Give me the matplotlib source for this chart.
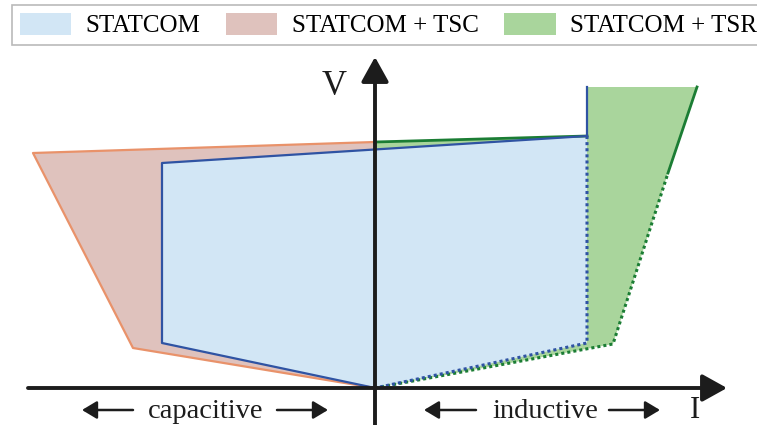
import matplotlib.pyplot as plt
from matplotlib.patches import Polygon, Patch

plt.rcParams['font.family'] = ['Liberation Serif', 'DejaVu Serif']

# operating regions in the V-I plane (arbitrary units, origin at I=0, V=0)
statcom_I = [0, -213, -213, 212, 212]
statcom_V = [0, 45, 225, 252, 45]
statcom_ext_I = [212, 212]          # vertical limit above the top corner
statcom_ext_V = [252, 301]

tsc_I = [0, -242, -342, 0]
tsc_V = [0, 40, 235, 246]

tsr_I = [0, 238, 293, 322, 212, 212, 0]
tsr_V = [0, 44, 215, 301, 301, 252, 246]

legend_labels = ['STATCOM', 'STATCOM + TSC', 'STATCOM + TSR']

c_blue_fill, c_blue_edge = '#d2e6f5', '#2f53a3'
c_pink_fill, c_pink_edge = '#dfc2bd', '#e9926a'
c_green_fill, c_green_edge = '#a9d59c', '#1b7d34'
c_axis = '#1c1c1c'

fig = plt.figure(figsize=(7.57, 4.25), dpi=100)
ax = fig.add_axes([0, 0, 1, 1])
ax.set_xlim(-375, 382)
ax.set_ylim(-37, 388)
ax.set_axis_off()

# fills
ax.add_patch(Polygon(list(zip(tsr_I, tsr_V)), closed=True, fc=c_green_fill, ec='none', zorder=1))
ax.add_patch(Polygon(list(zip(tsc_I, tsc_V)), closed=True, fc=c_pink_fill, ec='none', zorder=1))
ax.add_patch(Polygon(list(zip(statcom_I, statcom_V)), closed=True, fc=c_blue_fill, ec='none', zorder=2))

dot = (0, (1, 1))
# TSC boundary
ax.plot(tsc_I, tsc_V, color=c_pink_edge, lw=1.6, zorder=3)
# TSR boundary
ax.plot(tsr_I[6:] + [tsr_I[5]], tsr_V[6:] + [tsr_V[5]], color=c_green_edge, lw=2, zorder=3)
ax.plot(tsr_I[2:4], tsr_V[2:4], color=c_green_edge, lw=2, zorder=3)
ax.plot(tsr_I[0:3], tsr_V[0:3], color=c_green_edge, lw=2.2, ls=dot, zorder=3)
# STATCOM boundary
ax.plot(statcom_I[0:4], statcom_V[0:4], color=c_blue_edge, lw=1.6, zorder=4)
ax.plot(statcom_ext_I, statcom_ext_V, color=c_blue_edge, lw=1.6, zorder=4)
ax.plot(statcom_I[3:] + [statcom_I[0]], statcom_V[3:] + [statcom_V[0]],
        color=c_blue_edge, lw=2.2, ls=dot, zorder=4)

# axes with arrows
axis_arrow = dict(arrowstyle='-|>,head_length=0.36,head_width=0.2', lw=2.8,
                  color=c_axis, mutation_scale=42, shrinkA=0, shrinkB=0)
ax.annotate('', xy=(352, 0), xytext=(-347, 0), arrowprops=axis_arrow, zorder=6)
ax.annotate('', xy=(0, 331), xytext=(0, -40), arrowprops=axis_arrow, zorder=6)

ax.text(-41, 302, 'V', fontsize=25, ha='center', va='center', color=c_axis)
ax.text(320, -23, 'I', fontsize=22, ha='center', va='center', color=c_axis)

# direction labels
small_arrow = dict(arrowstyle='-|>,head_length=0.5,head_width=0.3', lw=1.8,
                   color=c_axis, mutation_scale=18, shrinkA=0, shrinkB=0)
ax.text(-169, -24, 'capacitive', fontsize=20.5, ha='center', va='center', color=c_axis)
ax.annotate('', xy=(-293, -22), xytext=(-242, -22), arrowprops=small_arrow)
ax.annotate('', xy=(-47, -22), xytext=(-98, -22), arrowprops=small_arrow)
ax.text(170, -24, 'inductive', fontsize=20.5, ha='center', va='center', color=c_axis)
ax.annotate('', xy=(49, -22), xytext=(101, -22), arrowprops=small_arrow)
ax.annotate('', xy=(285, -22), xytext=(234, -22), arrowprops=small_arrow)

handles = [Patch(fc=c_blue_fill, ec='none'), Patch(fc=c_pink_fill, ec='none'),
           Patch(fc=c_green_fill, ec='none')]
leg = fig.legend(handles, legend_labels, ncol=3, loc='upper left',
                 bbox_to_anchor=(12 / 757, 1 - 5 / 425), frameon=True, fancybox=False,
                 edgecolor='#a8a8a8', fontsize=18, handlelength=2.07, handleheight=1.0,
                 handletextpad=0.58, columnspacing=1.0, borderpad=0.3, borderaxespad=0)
leg.get_frame().set_linewidth(1.2)

fig.savefig('out.png', dpi=100)
